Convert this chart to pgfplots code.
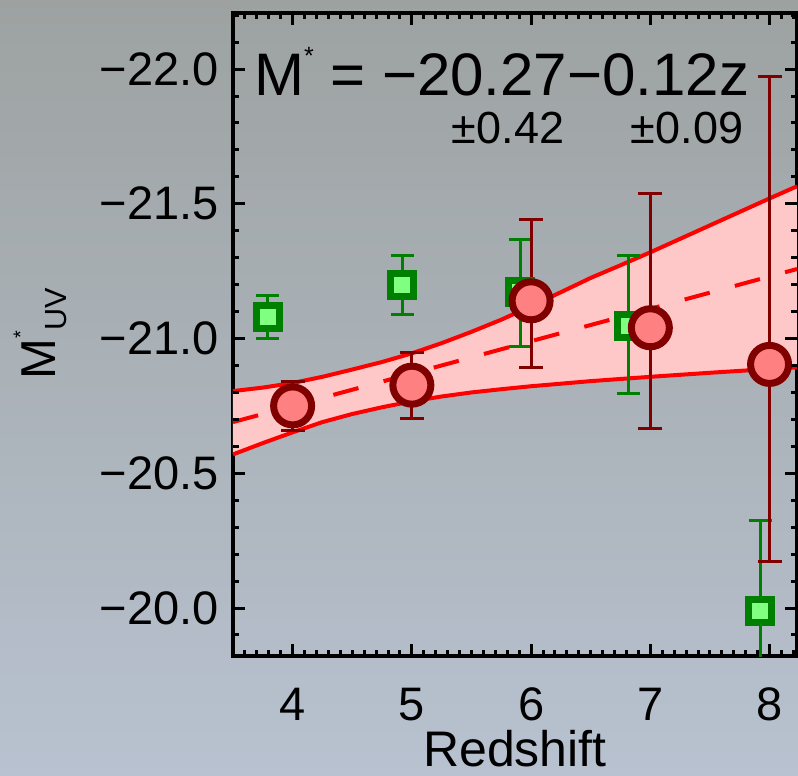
\documentclass[border=0pt]{standalone}
\usepackage{pgfplots}
\pgfplotsset{compat=1.18}
\usepackage{pgfplotstable}
\usepackage{fontspec}
\setmainfont{Liberation Sans}
\definecolor{bandpink}{RGB}{255,200,200}
\definecolor{circfill}{RGB}{255,128,128}
\definecolor{darkred}{RGB}{128,0,0}
\definecolor{dgreen}{RGB}{0,128,0}
\definecolor{lgreen}{RGB}{128,255,128}

\pgfplotstableread{
x y ep em
4 -20.750 0.092 0.090
5 -20.827 0.125 0.120
6 -21.140 0.247 0.303
7 -21.040 0.373 0.499
8 -20.904 0.732 1.070
}\redtab

\pgfplotstableread{
x y ep em
3.79 -21.080 0.080 0.080
4.92 -21.200 0.110 0.110
5.91 -21.173 0.201 0.196
6.82 -21.047 0.250 0.263
7.92 -19.990 0.350 0.334
}\greentab

\pgfplotstableread{
x y
3.50 -20.805
3.75 -20.818
4.00 -20.835
4.25 -20.858
4.50 -20.885
4.75 -20.913
5.00 -20.945
5.25 -20.983
5.50 -21.025
5.75 -21.070
6.00 -21.120
6.25 -21.172
6.50 -21.225
6.75 -21.272
7.00 -21.320
7.25 -21.370
7.50 -21.420
7.75 -21.470
8.00 -21.520
8.23 -21.565
}\uptab

\pgfplotstableread{
x y
3.50 -20.570
3.75 -20.612
4.00 -20.652
4.25 -20.690
4.50 -20.720
4.75 -20.745
5.00 -20.767
5.25 -20.785
5.50 -20.800
5.75 -20.812
6.00 -20.823
6.50 -20.842
7.00 -20.858
7.50 -20.873
8.00 -20.887
8.23 -20.893
}\lotab

\pgfplotstableread{
x y
3.50 -20.805
3.75 -20.818
4.00 -20.835
4.25 -20.858
4.50 -20.885
4.75 -20.913
5.00 -20.945
5.25 -20.983
5.50 -21.025
5.75 -21.070
6.00 -21.120
6.25 -21.172
6.50 -21.225
6.75 -21.272
7.00 -21.320
7.25 -21.370
7.50 -21.420
7.75 -21.470
8.00 -21.520
8.23 -21.565
8.23 -20.893
8.00 -20.887
7.50 -20.873
7.00 -20.858
6.50 -20.842
6.00 -20.823
5.75 -20.812
5.50 -20.800
5.25 -20.785
5.00 -20.767
4.75 -20.745
4.50 -20.720
4.25 -20.690
4.00 -20.652
3.75 -20.612
3.50 -20.570
}\bandtab

\begin{document}
\begin{tikzpicture}
\shade[top color={rgb,255:red,157;green,162;blue,161},
       middle color={rgb,255:red,166;green,172;blue,177},
       bottom color={rgb,255:red,184;green,194;blue,208}]
  (-116.5pt,-60pt) rectangle (282.5pt,328pt);
\begin{axis}[
  scale only axis, width=282pt, height=321.5pt,
  xmin=3.5, xmax=8.23, ymin=-22.208, ymax=-19.822, y dir=reverse,
  xtick={4,5,6,7,8}, xticklabels={4,5,6,7,8},
  ytick={-22,-21.5,-21,-20.5,-20},
  yticklabels={−22.0,−21.5,−21.0,−20.5,−20.0},
  tick style={draw=none},
  axis line style={black, line width=2pt},
  xticklabel style={font=\fontsize{23.5}{28}\selectfont, anchor=base, inner sep=0pt, yshift=-32pt},
  yticklabel style={font=\fontsize{23.5}{28}\selectfont, anchor=east, inner sep=0pt, xshift=-7pt},
  xlabel={Redshift},
  xlabel style={font=\fontsize{25}{30}\selectfont, at={(axis description cs:0.5,-0.172)}, anchor=base},
  ylabel={M\raisebox{14pt}{\fontsize{10}{12}\selectfont *}\raisebox{-5.5pt}{\fontsize{15.3}{18}\selectfont UV}},
  ylabel style={font=\fontsize{24.5}{29}\selectfont, at={(axis description cs:-0.342,0.5008)}, anchor=center},
]
\addplot[fill=bandpink, draw=none] table[x=x,y=y]{\bandtab} -- cycle;
\addplot[red, line width=2pt] table[x=x,y=y]{\uptab};
\addplot[red, line width=2pt] table[x=x,y=y]{\lotab};
\addplot[red, line width=2pt, dash pattern=on 13pt off 13pt] coordinates {(3.5,-20.69) (8.23,-21.258)};

\addplot[only marks, mark=square*, mark size=5.75pt,
  mark options={draw=dgreen, fill=lgreen, line width=3.5pt},
  error bars/.cd, y dir=both, y explicit,
  error bar style={dgreen, line width=1.5pt},
  error mark options={dgreen, line width=1.5pt, mark size=5.75pt, rotate=90}]
  table[x=x,y=y,y error plus=ep,y error minus=em]{\greentab};

\addplot[only marks, mark=*, mark size=9.5pt,
  mark options={draw=darkred, fill=circfill, line width=3.5pt},
  error bars/.cd, y dir=both, y explicit,
  error bar style={darkred, line width=1.5pt},
  error mark options={darkred, line width=1.5pt, mark size=6pt, rotate=90}]
  table[x=x,y=y,y error plus=ep,y error minus=em]{\redtab};

\node[anchor=base west, font=\fontsize{30}{36}\selectfont, inner sep=0pt]
  at (axis cs:3.673,-21.9035) {M\raisebox{15.5pt}{\fontsize{12.5}{15}\selectfont *} = −20.27−0.12z};
\node[anchor=base east, font=\fontsize{22.5}{27}\selectfont, inner sep=0pt]
  at (axis cs:6.281,-21.7254) {±0.42};
\node[anchor=base east, font=\fontsize{22.5}{27}\selectfont, inner sep=0pt]
  at (axis cs:7.782,-21.7254) {±0.09};
\end{axis}
% axis ticks (inside, on all four sides)
\begin{scope}[black, line width=1.5pt]
\foreach \i in {0,...,47} {
  \draw (\i*5.9619pt,0pt) -- (\i*5.9619pt,3pt);
  \draw (\i*5.9619pt,321.5pt) -- (\i*5.9619pt,318.5pt);
}
\foreach \k in {0,...,4} {
  \draw (29.81pt+\k*59.619pt,0pt) -- (29.81pt+\k*59.619pt,6pt);
  \draw (29.81pt+\k*59.619pt,321.5pt) -- (29.81pt+\k*59.619pt,315.5pt);
}
\foreach \j in {0,...,23} {
  \draw (0pt,320.42pt-\j*13.4745pt) -- (3pt,320.42pt-\j*13.4745pt);
  \draw (282pt,320.42pt-\j*13.4745pt) -- (279pt,320.42pt-\j*13.4745pt);
}
\foreach \k in {0,...,4} {
  \draw (0pt,293.47pt-\k*67.3725pt) -- (6pt,293.47pt-\k*67.3725pt);
  \draw (282pt,293.47pt-\k*67.3725pt) -- (276pt,293.47pt-\k*67.3725pt);
}
\end{scope}
\pgfresetboundingbox
\useasboundingbox (-116.5pt,-60pt) rectangle (282.5pt,328pt);
\end{tikzpicture}
\end{document}
